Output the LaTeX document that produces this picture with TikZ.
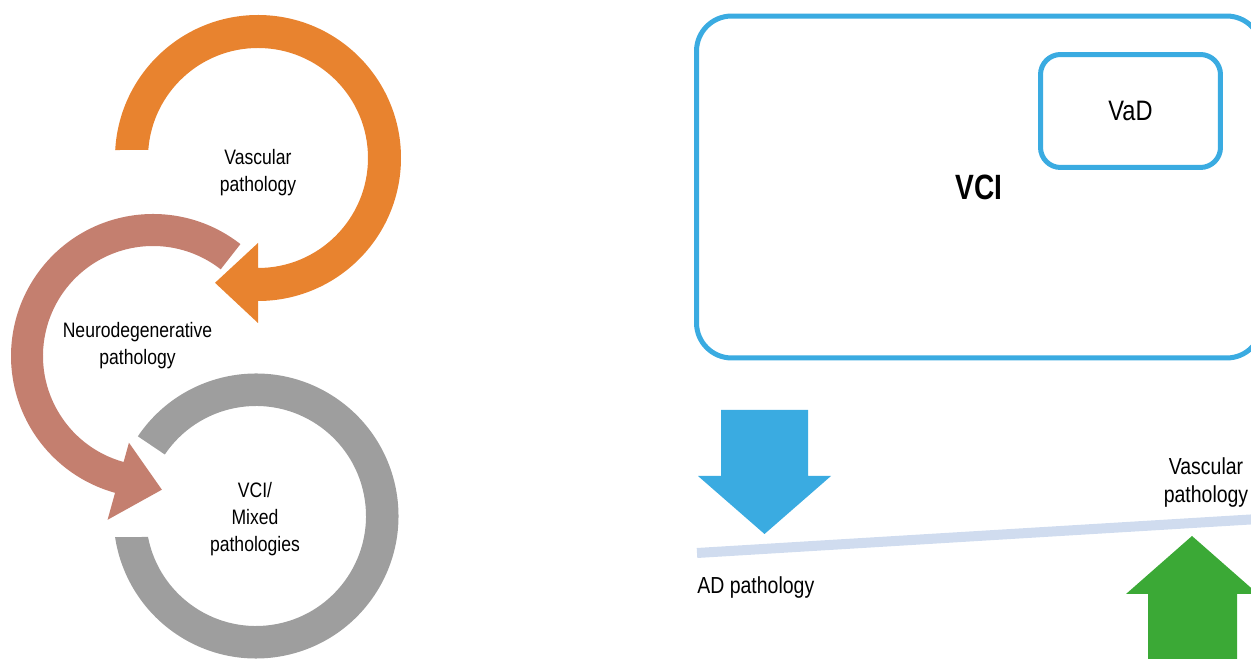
\documentclass[tikz,border=0pt]{standalone}
\usepackage{fontspec}
\setmainfont{Liberation Sans}
\newfontfamily\narrowsf[FakeStretch=0.84]{Liberation Sans}
\newfontfamily\titlesf[FakeStretch=0.8]{Liberation Sans}

\definecolor{vascorange}{HTML}{E8832F}
\definecolor{neurorose}{HTML}{C47F6F}
\definecolor{mixedgray}{HTML}{9E9E9E}
\definecolor{vciblue}{HTML}{3AABE1}
\definecolor{beamblue}{HTML}{D0DCEF}
\definecolor{upgreen}{HTML}{3BA936}

\begin{document}
\begin{tikzpicture}[x=0.02cm,y=0.02cm,
    cyclelabel/.style={font=\narrowsf\fontsize{11.9}{15.4}\selectfont,align=center},
    sidelabel/.style={font=\narrowsf\fontsize{13.2}{15.9}\selectfont,align=center},
    vcibox/.style={draw=vciblue,line width=0.1cm,rounded corners=20pt}]
    \useasboundingbox (0,0) rectangle (1251,659);
    \clip (0,0) rectangle (1251,659);

    % circular arrows (flat ends cut level)
    \fill[vascorange,shift={(258,501)}]
          (176.8:143) arc[start angle=176.8,end angle=-90,radius=143]
          -- (-90:165) -- (-109:132) -- (-90:85) -- (-90:110)
          arc[start angle=-90,end angle=175.8,radius=110] -- cycle;
    \fill[neurorose,shift={(153,303)}]
          (52:142) arc[start angle=52,end angle=254.5,radius=142]
          -- (254.5:170) -- (273.8:134) -- (254.5:90) -- (254.5:110)
          arc[start angle=254.5,end angle=52,radius=110] -- cycle;
    \fill[mixedgray,shift={(256,143)}]
          (146:142.5) arc[start angle=146,end angle=-171.5,radius=142.5]
          -- (-169:110)
          arc[start angle=-169,end angle=146,radius=110] -- cycle;

    \node[cyclelabel] (vasc) at (258,486) {Vascular\\pathology};
    \node[cyclelabel] (neuro) at (137.5,313.5) {Neurodegenerative\\pathology};
    \node[cyclelabel] (mixed) at (255,139.5) {VCI/\\Mixed\\pathologies};

    % VCI with VaD inside
    \node[vcibox,minimum width=11.31cm,minimum height=6.84cm,
          font=\titlesf\bfseries\fontsize{20}{24}\selectfont] (vci) at (979.2,472) {VCI};
    \node[vcibox,rounded corners=11.4pt,minimum width=3.6cm,minimum height=2.26cm,
          font=\narrowsf\fontsize{16}{19}\selectfont] (vad) at (1130.5,548) {VaD};

    % balance
    \fill[vciblue] (721,249) -- (808,249) -- (808,183) -- (831,183)
          -- (764.5,125) -- (698,183) -- (721,183) -- cycle;
    \draw[beamblue,line width=0.2cm] (697,106) -- (1262,140.2);
    \fill[upgreen] (1148,-5) -- (1148,65) -- (1126,65) -- (1192,123)
          -- (1258,65) -- (1237,65) -- (1237,-5) -- cycle;

    \node[sidelabel,anchor=base west,inner sep=0pt] (ad) at (697,65) {AD pathology};
    \node[sidelabel] (vascside) at (1206,176.5) {Vascular\\pathology};
\end{tikzpicture}
\end{document}
